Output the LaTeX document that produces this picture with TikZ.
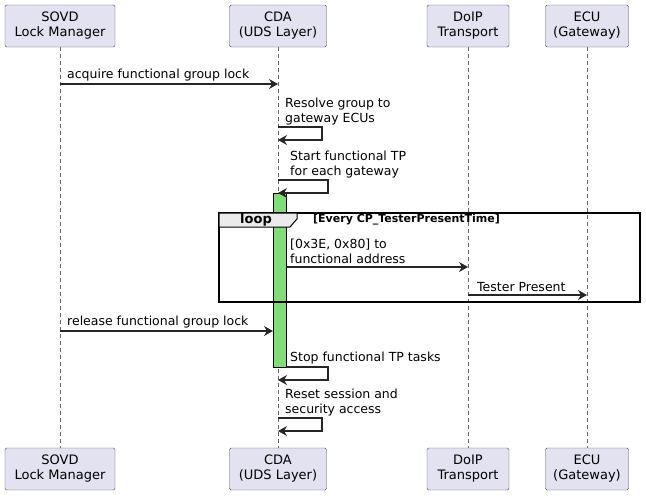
\documentclass[tikz,border=0pt]{standalone}
\usepackage{fontspec}
\setmainfont{DejaVu Sans}
\usetikzlibrary{arrows.meta}
\begin{document}
\begin{tikzpicture}[x=1pt,y=-1pt,
  part/.style={draw=black!70,fill={rgb,255:red,226;green,226;blue,240},rounded corners=1.5pt,minimum height=42,inner sep=3pt,align=center,font=\fontsize{13}{15}\selectfont},
  life/.style={draw=black!60,dashed,dash pattern=on 4pt off 3pt,thin},
  msg/.style={draw=black!85,line width=1.2pt,-{Stealth[length=9pt,width=10pt,inset=3pt]}},
  lbl/.style={font=\fontsize{12.5}{15}\selectfont,align=left,anchor=south west,inner sep=1pt}]
\useasboundingbox (0,0) rectangle (646,499);
\foreach \n/\x/\w/\t in {s/60/110/{SOVD\\Lock Manager},c/278/97/{CDA\\(UDS Layer)},d/468/82/{DoIP\\Transport},e/587/83/{ECU\\(Gateway)}}{
  \draw[life] (\x,47) -- (\x,448);
  \node[part,minimum width=\w] (\n1) at (\x,26) {\t};
  \node[part,minimum width=\w] (\n2) at (\x,469) {\t};
}
\fill[fill={rgb,255:red,130;green,220;blue,120},draw=black] (273,193) rectangle (286,367);
% 1
\draw[msg] (60,84) -- (278,84);
\node[lbl] at (66,82) {acquire functional group lock};
% 2
\node[lbl] at (284,126) {Resolve group to\\gateway ECUs};
\draw[msg] (278,127) -- (322,127) -- (322,140) -- (278,140);
% 3
\node[lbl] at (289,179) {Start functional TP\\for each gateway};
\draw[msg] (278,180) -- (328,180) -- (328,193) -- (278,193);
% loop
\draw[line width=1.2pt] (219,213) rectangle (640,302);
\draw[fill=black!8,line width=1pt] (219,213) -- (297,213) -- (297,219) -- (290,227) -- (219,227) -- cycle;
\node[font=\bfseries\fontsize{13}{15}\selectfont] at (256,220) {loop};
\node[font=\bfseries\fontsize{11}{13}\selectfont,anchor=west,inner sep=0pt] at (313,220) {[Every CP\_TesterPresentTime]};
% 4
\node[lbl] at (289,265) {[0x3E, 0x80] to\\functional address};
\draw[msg] (286,267) -- (468,267);
% 5
\node[lbl] at (476,293) {Tester Present};
\draw[msg] (468,295) -- (587,295);
% 6
\node[lbl] at (66,329) {release functional group lock};
\draw[msg] (60,331) -- (273,331);
% 7
\node[lbl] at (289,365) {Stop functional TP tasks};
\draw[msg] (286,367) -- (328,367) -- (328,380) -- (278,380);
% 8
\node[lbl] at (284,417) {Reset session and\\security access};
\draw[msg] (278,418) -- (322,418) -- (322,431) -- (278,431);
\end{tikzpicture}
\end{document}
